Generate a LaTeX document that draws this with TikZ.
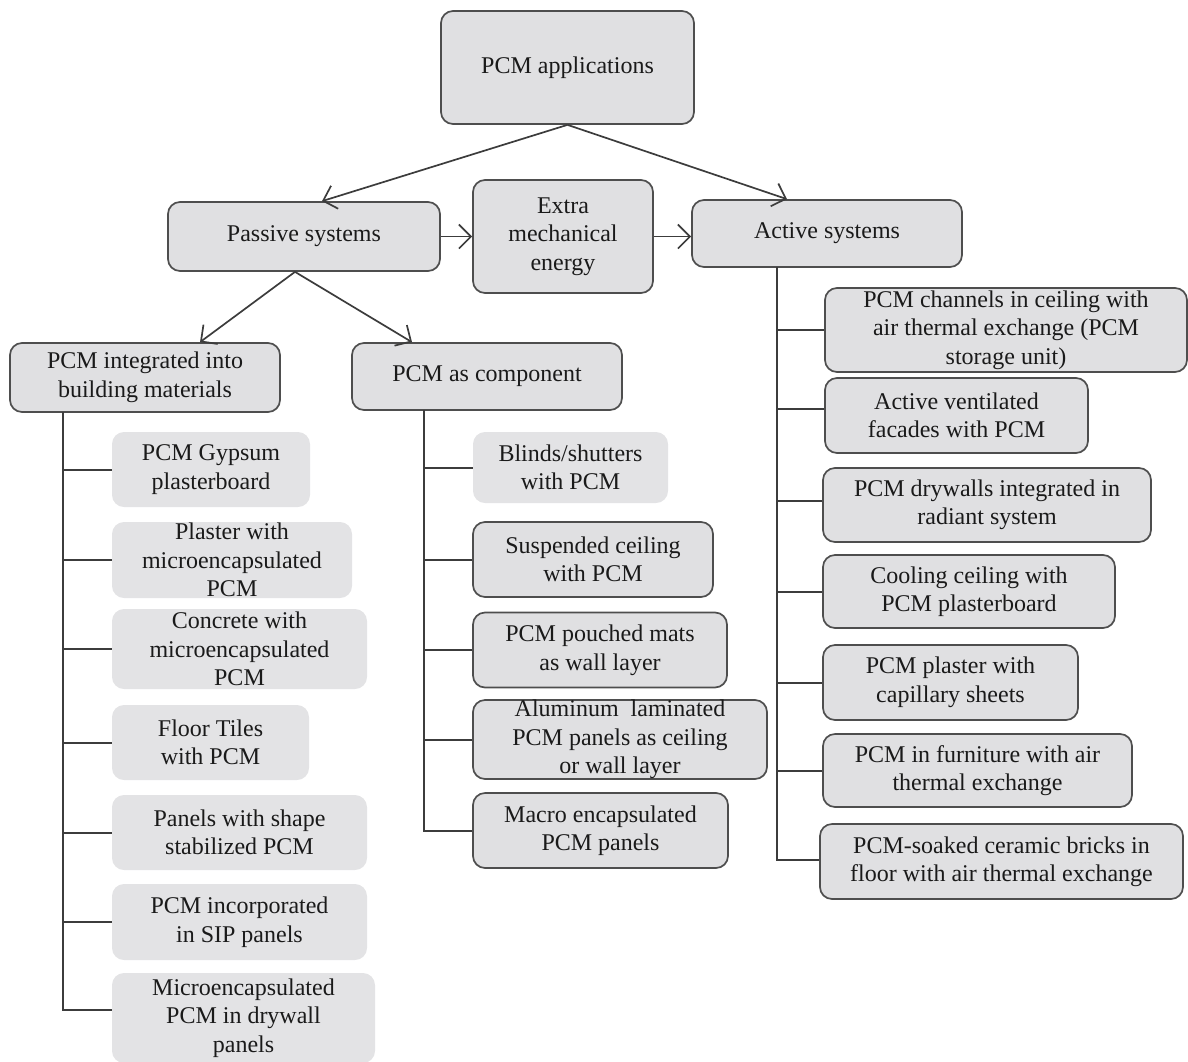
\documentclass[tikz,border=0pt]{standalone}
\usepackage{fontspec}
\setmainfont{Liberation Serif}
\usetikzlibrary{arrows.meta}
\definecolor{boxfill}{HTML}{E0E0E2}
\definecolor{leaffill}{HTML}{E3E3E5}
\definecolor{edge}{HTML}{4E4E4E}
\definecolor{linec}{HTML}{3C3C3C}
\definecolor{txt}{HTML}{1A1A1A}
\newcommand\boxfont{\fontsize{24}{28.5}\selectfont}
\tikzset{
  base/.style={rounded corners=12pt, fill=boxfill, align=center, inner sep=0pt, font=\boxfont, text=txt},
  bbox/.style={base, draw=edge, line width=1.7pt},
  nbox/.style={base, fill=leaffill},
  sz/.style 2 args={minimum width=#1pt, minimum height=#2pt},
  conn/.style={draw=linec, line width=2pt},
  arr/.style={draw=linec, line width=1.7pt, -{Straight Barb[length=12pt,width=24pt]}},
}
\begin{document}
\begin{tikzpicture}[x=1pt,y=-1pt]
\useasboundingbox (0,0) rectangle (1188,1061);
% top level
\node[bbox, sz={253}{113}] (app) at (567.5,67.5) {PCM applications};
\node[bbox, sz={272}{69}] (passive) at (304,236.5) {Passive systems};
\node[bbox, sz={180}{113}] (extra) at (563,236.5) {Extra\\mechanical\\energy};
\node[bbox, sz={270}{67}] (active) at (827,233.5) {Active systems};
\node[bbox, sz={270}{69}] (integ) at (145,377.5) {PCM integrated into\\building materials};
\node[bbox, sz={270}{67}] (comp) at (487,376.5) {PCM as component};
% left leaves
\node[nbox, sz={198}{75}] (g1) at (211,469.5) {PCM Gypsum\\plasterboard};
\node[nbox, sz={240}{76}] (g2) at (232,560) {Plaster with\\microencapsulated\\PCM};
\node[nbox, sz={255}{80}] (g3) at (239.5,649) {Concrete with\\microencapsulated\\PCM};
\node[nbox, sz={197}{75}] (g4) at (210.5,742.5) {Floor Tiles\\with PCM};
\node[nbox, sz={255}{75}] (g5) at (239.5,832.5) {Panels with shape\\stabilized PCM};
\node[nbox, sz={255}{76}] (g6) at (239.5,922) {PCM incorporated\\in SIP panels};
\node[nbox, sz={263}{90}] (g7) at (243.5,1018) {Microencapsulated\\PCM in drywall\\panels};
% middle leaves
\node[nbox, sz={195}{71}] (m1) at (570.5,467.5) {Blinds/shutters\\with PCM};
\node[bbox, sz={240}{75}] (m2) at (593,559.5) {Suspended ceiling\\with PCM};
\node[bbox, sz={254}{75}] (m3) at (600,650) {PCM pouched mats\\as wall layer};
\node[bbox, sz={294}{79}] (m4) at (620,739.5) {Aluminum\ \ laminated\\PCM panels as ceiling\\or wall layer};
\node[bbox, sz={255}{75}] (m5) at (600.5,830.5) {Macro encapsulated\\PCM panels};
% right leaves
\node[bbox, sz={362}{84}] (r1) at (1006,330) {PCM channels in ceiling with\\air thermal exchange (PCM\\storage unit)};
\node[bbox, sz={263}{75}] (r2) at (956.5,415.5) {Active ventilated\\facades with PCM};
\node[bbox, sz={328}{74}] (r3) at (987,505) {PCM drywalls integrated in\\radiant system};
\node[bbox, sz={292}{73}] (r4) at (969,591.5) {Cooling ceiling with\\PCM plasterboard};
\node[bbox, sz={255}{75}] (r5) at (950.5,682.5) {PCM plaster with\\capillary sheets};
\node[bbox, sz={309}{73}] (r6) at (977.5,770.5) {PCM in furniture with air\\thermal exchange};
\node[bbox, sz={363}{75}] (r7) at (1001.5,861.5) {PCM-soaked ceramic bricks in\\floor with air thermal exchange};
% arrows
\draw[arr] (app.south) -- ([xshift=18pt]passive.north);
\draw[arr] (app.south) -- ([xshift=-40pt]active.north);
\draw[arr] (passive.east) -- (extra.west);
\draw[arr] (extra.east) -- (extra.east -| active.west);
\draw[arr] ([xshift=-9pt]passive.south) -- ([xshift=55pt]integ.north);
\draw[arr] ([xshift=-9pt]passive.south) -- ([xshift=-75pt]comp.north);
% trunks
\coordinate (lt) at (63,412);
\coordinate (mt) at (424,410);
\coordinate (rt) at (777,267);
\foreach \n in {g1,g2,g3,g4,g5,g6} \draw[conn] (lt) |- (\n.west);
\draw[conn] (lt) |- ([yshift=8pt]g7.west);
\foreach \n in {m1,m2,m3,m4,m5} \draw[conn] (mt) |- (\n.west);
\draw[conn] (rt) |- (r1.west);
\draw[conn] (rt) |- ([yshift=7pt]r2.west);
\draw[conn] (rt) |- ([yshift=4pt]r3.west);
\foreach \n in {r4,r5,r6} \draw[conn] (rt) |- (\n.west);
\draw[conn] (rt) |- ([yshift=2pt]r7.west);
\end{tikzpicture}
\end{document}
